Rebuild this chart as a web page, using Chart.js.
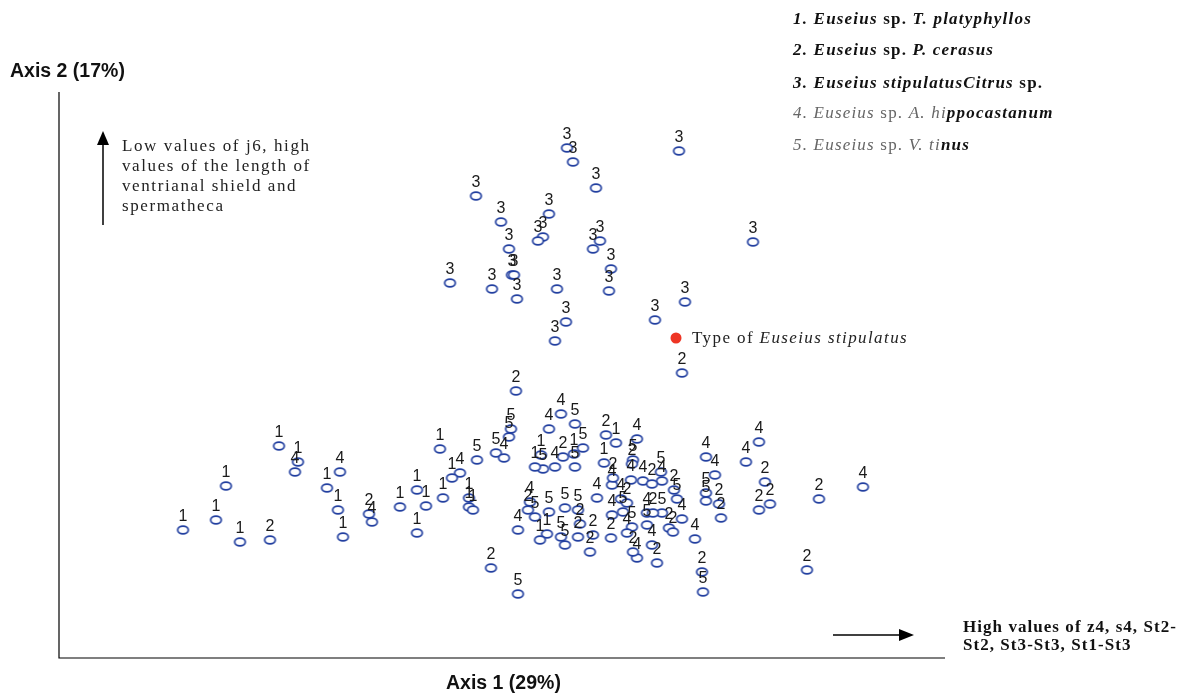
<!DOCTYPE html>
<html>
<head>
<meta charset="utf-8">
<script src="https://cdn.jsdelivr.net/npm/chart.js@4.4.1/dist/chart.umd.min.js"></script>
<style>
  html, body { margin: 0; padding: 0; background: #ffffff; }
  #wrap { width: 1191px; height: 695px; position: relative; }
</style>
</head>
<body>
<div id="wrap"><canvas id="chart" width="1191" height="695"></canvas></div>
<script>
// Canonical scores of the Euseius specimens (Axis 1, Axis 2), one pair of arrays per group.
const groupTags = ['1', '2', '3', '4', '5'];

const g1x = [2.20, 2.39, 1.67, 2.68, 2.79, 1.57, 1.24, 1.81, 2.84, 3.81, 3.93, 3.58, 3.84, 4.10, 3.41, 3.67, 4.10, 4.14, 3.58, 5.57, 5.45, 4.76, 4.82, 5.15, 4.88, 4.81];
const g1y = [2.12, 1.96, 1.72, 1.70, 1.48, 1.38, 1.28, 1.16, 1.21, 2.09, 1.80, 1.68, 1.60, 1.60, 1.51, 1.52, 1.51, 1.48, 1.25, 2.15, 1.95, 1.91, 2.03, 2.04, 1.24, 1.18];

const g2x = [2.11, 3.10, 4.57, 4.32, 6.23, 5.47, 5.04, 5.54, 5.21, 5.19, 5.34, 5.31, 5.52, 5.73, 5.93, 5.68, 6.15, 5.94, 6.10, 6.14, 5.74, 5.98, 6.43, 7.06, 6.60, 6.62, 7.00, 7.11, 7.60, 7.48, 4.69];
const g2y = [1.18, 1.44, 2.67, 0.90, 2.85, 2.23, 2.01, 1.80, 1.34, 1.21, 1.23, 1.06, 1.20, 1.94, 1.74, 1.55, 1.68, 1.45, 1.30, 1.26, 1.06, 0.95, 0.86, 1.76, 1.54, 1.40, 1.48, 1.54, 1.59, 0.88, 1.48];

const g3x = [5.08, 5.14, 5.37, 4.17, 4.90, 4.42, 4.84, 4.79, 5.41, 5.34, 4.50, 5.52, 4.53, 4.55, 4.58, 3.91, 4.33, 4.98, 5.50, 5.07, 4.96, 6.20, 6.94, 6.26, 5.96];
const g3y = [5.10, 4.96, 4.70, 4.62, 4.44, 4.36, 4.21, 4.17, 4.17, 4.09, 4.09, 3.89, 3.83, 3.83, 3.59, 3.75, 3.69, 3.69, 3.67, 3.36, 3.17, 5.07, 4.16, 3.56, 3.38];

const g4x = [2.36, 2.81, 3.13, 4.45, 4.01, 4.59, 5.02, 4.90, 4.96, 5.53, 5.38, 4.71, 5.53, 5.78, 5.72, 5.84, 6.03, 5.68, 5.88, 6.23, 6.36, 5.93, 5.78, 6.47, 6.56, 7.00, 6.87, 8.04, 5.62];
const g4y = [1.86, 1.86, 1.36, 2.00, 1.85, 1.28, 2.44, 2.29, 1.91, 1.73, 1.60, 1.56, 1.43, 2.19, 1.78, 1.77, 1.77, 1.25, 1.45, 1.39, 1.19, 1.13, 1.00, 2.01, 1.83, 2.16, 1.96, 1.71, 1.59];

const g5x = [4.52, 4.50, 4.18, 4.37, 4.59, 5.16, 5.24, 4.84, 5.16, 4.76, 4.90, 5.06, 5.19, 5.02, 5.06, 5.74, 6.18, 6.03, 5.88, 5.64, 5.73, 6.47, 6.47, 6.44, 6.02];
const g5y = [2.29, 2.21, 1.98, 2.05, 0.64, 2.34, 2.10, 1.89, 1.91, 1.41, 1.46, 1.50, 1.48, 1.21, 1.13, 1.98, 1.59, 1.45, 1.33, 1.46, 1.31, 1.65, 1.57, 0.66, 1.86];

// Type specimen of Euseius stipulatus
const typeX = [6.17];
const typeY = [3.20];

const axisRange = { xMin: 0, xMax: 8.86, yMin: 0, yMax: 5.66 };

// Small open ellipse used as the marker for every specimen
function makeEllipseMarker() {
  const c = document.createElement('canvas');
  c.width = 15; c.height = 12;
  const g = c.getContext('2d');
  g.beginPath();
  g.ellipse(7.5, 6, 5.3, 3.9, 0, 0, Math.PI * 2);
  g.fillStyle = '#ffffff';
  g.fill();
  g.lineWidth = 1.7;
  g.strokeStyle = '#2340a0';
  g.stroke();
  return c;
}
const marker = makeEllipseMarker();

function pairs(xs, ys) { return xs.map((x, i) => ({ x, y: ys[i] })); }

const groupData = [[g1x, g1y], [g2x, g2y], [g3x, g3y], [g4x, g4y], [g5x, g5y]];
const datasets = groupData.map((d, i) => ({
  label: groupTags[i],
  tag: groupTags[i],
  data: pairs(d[0], d[1]),
  pointStyle: marker,
  pointRadius: 5,
  showLine: false
}));
datasets.push({
  label: 'type',
  data: pairs(typeX, typeY),
  pointStyle: 'circle',
  pointRadius: 5.5,
  pointBackgroundColor: '#ee3524',
  pointBorderColor: '#ee3524',
  pointBorderWidth: 0,
  showLine: false
});

function drawRuns(ctx, runs, x, y, spacing) {
  ctx.textAlign = 'left';
  ctx.textBaseline = 'middle';
  ctx.letterSpacing = spacing || '0px';
  for (const r of runs) {
    ctx.font = r.f;
    ctx.fillStyle = r.c;
    ctx.fillText(r.t, x, y);
    x += ctx.measureText(r.t).width;
  }
  ctx.letterSpacing = '0px';
}

const SERIF = "'Liberation Serif', 'Times New Roman', serif";
const SANS = "'Liberation Sans', Arial, sans-serif";

const decorations = {
  id: 'decorations',
  afterDatasetsDraw(chart) {
    const ctx = chart.ctx;
    const a = chart.chartArea;
    ctx.save();

    // group numbers above each specimen
    ctx.font = '16px ' + SANS;
    ctx.fillStyle = '#1a1a1a';
    ctx.textAlign = 'center';
    ctx.textBaseline = 'middle';
    chart.data.datasets.forEach((ds, i) => {
      if (!ds.tag) return;
      chart.getDatasetMeta(i).data.forEach(el => {
        ctx.fillText(ds.tag, el.x, el.y - 13);
      });
    });

    // axes
    ctx.strokeStyle = '#000';
    ctx.lineWidth = 1.2;
    ctx.beginPath();
    ctx.moveTo(a.left, a.top);
    ctx.lineTo(a.left, a.bottom);
    ctx.lineTo(a.right, a.bottom);
    ctx.stroke();

    // axis titles
    ctx.fillStyle = '#111';
    ctx.font = 'bold 19.5px ' + SANS;
    ctx.textAlign = 'left';
    ctx.fillText('Axis 2 (17%)', 10, 72);
    ctx.fillText('Axis 1 (29%)', 446, 684);

    // vertical direction arrow
    ctx.lineWidth = 1.5;
    ctx.beginPath();
    ctx.moveTo(103, 225);
    ctx.lineTo(103, 142);
    ctx.stroke();
    ctx.fillStyle = '#000';
    ctx.beginPath();
    ctx.moveTo(103, 131);
    ctx.lineTo(97, 145);
    ctx.lineTo(109, 145);
    ctx.closePath();
    ctx.fill();

    // horizontal direction arrow
    ctx.beginPath();
    ctx.moveTo(833, 635);
    ctx.lineTo(901, 635);
    ctx.stroke();
    ctx.beginPath();
    ctx.moveTo(914, 635);
    ctx.lineTo(899, 629);
    ctx.lineTo(899, 641);
    ctx.closePath();
    ctx.fill();

    // arrow captions
    const r17 = '17px ' + SERIF, b17 = 'bold 17px ' + SERIF;
    ['Low values of j6, high', 'values of the length of', 'ventrianal shield and', 'spermatheca']
      .forEach((t, i) => drawRuns(ctx, [{ t, f: r17, c: '#222' }], 122, 147 + i * 20, '1.6px'));
    drawRuns(ctx, [{ t: 'High values of z4, s4, St2-', f: b17, c: '#111' }], 963, 628, '1.05px');
    drawRuns(ctx, [{ t: 'St2, St3-St3, St1-St3', f: b17, c: '#111' }], 963, 646, '1.05px');

    // type specimen caption
    const tp = chart.getDatasetMeta(5).data[0];
    drawRuns(ctx, [
      { t: 'Type of ', f: r17, c: '#222' },
      { t: 'Euseius stipulatus', f: 'italic 17px ' + SERIF, c: '#222' }
    ], tp.x + 16, tp.y + 1, '1.4px');

    // group key
    const bi = 'italic bold 17px ' + SERIF, b = b17;
    const it = 'italic 17px ' + SERIF, rg = r17;
    const grey = '#666', dark = '#111';
    const key = [
      [{ t: '1. Euseius', f: bi, c: dark }, { t: ' sp. ', f: b, c: dark }, { t: 'T. platyphyllos', f: bi, c: dark }],
      [{ t: '2. Euseius', f: bi, c: dark }, { t: ' sp. ', f: b, c: dark }, { t: 'P. cerasus', f: bi, c: dark }],
      [{ t: '3. Euseius stipulatusCitrus', f: bi, c: dark }, { t: ' sp.', f: b, c: dark }],
      [{ t: '4. Euseius', f: it, c: grey }, { t: ' sp. ', f: rg, c: grey }, { t: 'A. hi', f: it, c: grey }, { t: 'ppocastanum', f: bi, c: dark }],
      [{ t: '5. Euseius', f: it, c: grey }, { t: ' sp. ', f: rg, c: grey }, { t: 'V. ti', f: it, c: grey }, { t: 'nus', f: bi, c: dark }]
    ];
    const keyY = [20, 51, 84, 114, 146];
    key.forEach((runs, i) => drawRuns(ctx, runs, 793, keyY[i], '1.2px'));

    ctx.restore();
  }
};

new Chart(document.getElementById('chart').getContext('2d'), {
  type: 'scatter',
  data: { datasets },
  options: {
    responsive: false,
    animation: false,
    layout: { padding: { left: 59, right: 246, top: 92, bottom: 37 } },
    scales: {
      x: { type: 'linear', min: axisRange.xMin, max: axisRange.xMax, display: false },
      y: { type: 'linear', min: axisRange.yMin, max: axisRange.yMax, display: false }
    },
    plugins: { legend: { display: false }, tooltip: { enabled: false } }
  },
  plugins: [decorations]
});
</script>
</body>
</html>
